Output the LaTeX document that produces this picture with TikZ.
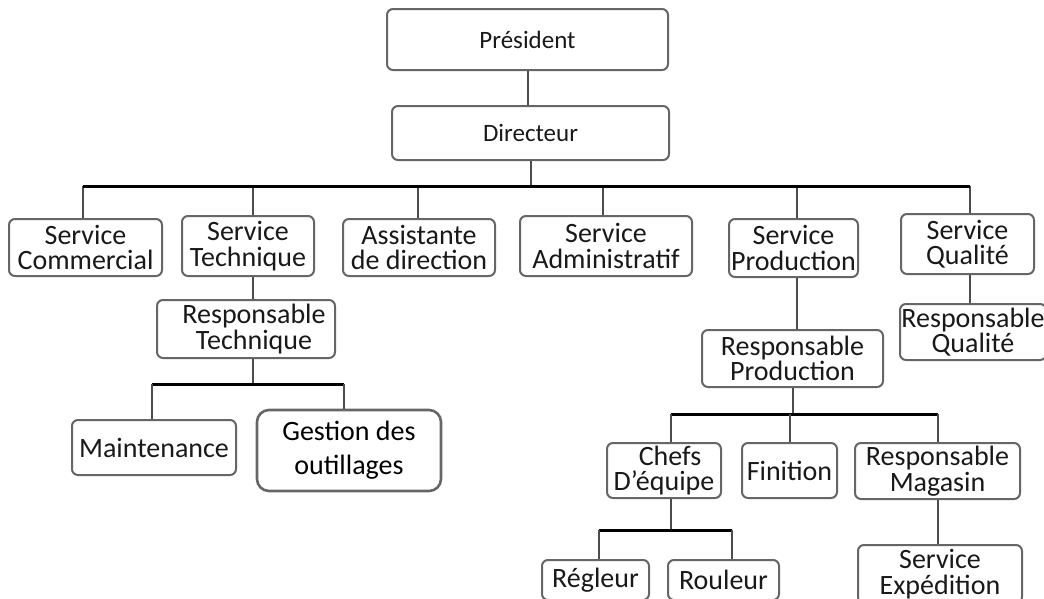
\documentclass[tikz,border=0pt]{standalone}
\usepackage{fontspec}
\setmainfont{Carlito}

\begin{document}
\begin{tikzpicture}[x=1pt, y=-1pt,
    box/.style={draw=black!60, line width=2pt, rounded corners=6pt, align=center,
      inner sep=0pt, text=black!90, font=\fontsize{28}{25.5}\selectfont},
    topbox/.style={box, font=\fontsize{25}{25}\selectfont},
    link/.style={draw=black!70, line width=2pt},
    bus/.style={draw=black, line width=3pt}]

  \useasboundingbox (0,0) rectangle (1044,598);
  \fill[white] (0,0) rectangle (1044,598);

  % President and Directeur
  \node[topbox, minimum width=281pt, minimum height=61pt] (pres) at (527.5,39.5) {Président};
  \node[topbox, minimum width=277pt, minimum height=54pt] (dir) at (530.5,133) {Directeur};
  \draw[link] (pres.south) -- (pres.south |- dir.north);

  % Services
  \node[box, minimum width=153pt, minimum height=57pt] (scom) at (85.5,247.5) {Service\\Commercial};
  \node[box, minimum width=132pt, minimum height=60pt] (stech) at (248,246) {Service\\Technique};
  \node[box, minimum width=152pt, minimum height=57pt] (assist) at (419,247.5) {Assistante\\de direction};
  \node[box, minimum width=172pt, minimum height=60pt] (sadmin) at (606,246) {Service\\Administratif};
  \node[box, minimum width=129pt, minimum height=58pt] (sprod) at (793.5,248) {Service\\Production};
  \node[box, minimum width=133pt, minimum height=60pt] (squal) at (967.5,244) {Service\\Qualité};

  \coordinate (busL) at (83,186);
  \coordinate (busR) at (970,186);
  \draw[link] (dir.south) -- (dir.south |- busL);
  \foreach \n/\dx in {scom/-2.5, stech/5, assist/-1, sadmin/-3, sprod/3.5, squal/2.5}
    \draw[link] ([xshift=\dx pt]\n.north) -- ([xshift=\dx pt]\n.north |- busL);
  \draw[bus] (busL) -- (busR);

  % Technique
  \node[box, minimum width=178pt, minimum height=58pt] (rtech) at (246,329) {\hspace*{16pt}Responsable\\\hspace*{16pt}Technique};
  \node[box, minimum width=164pt, minimum height=55pt] (maint) at (154,447.5) {Maintenance};
  \node[box, draw=black!60, line width=2.6pt, rounded corners=12pt, text=black,
    font=\fontsize{28}{34}\selectfont, minimum width=184pt, minimum height=81pt] (gestion) at (349,450.5) {Gestion des\\outillages};

  \coordinate (tbL) at (152,384);
  \coordinate (tbR) at (344,384);
  \draw[link] ([xshift=5pt]stech.south) -- ([xshift=5pt]stech.south |- rtech.north);
  \draw[link] ([xshift=5pt]stech.south |- rtech.south) -- ([xshift=5pt]stech.south |- tbL);
  \draw[bus] (tbL) -- (tbR);
  \draw[link] (tbL) -- (tbL |- maint.north);
  \draw[link] (tbR) -- (tbR |- gestion.north);

  % Production
  \node[box, minimum width=181pt, minimum height=57pt] (rprod) at (792.5,358.5) {Responsable\\Production};
  \node[box, minimum width=114pt, minimum height=55pt] (chefs) at (664,470.5) {\hspace*{12pt}Chefs\\D’équipe};
  \node[box, minimum width=95pt, minimum height=55pt] (fini) at (789.5,470.5) {Finition};
  \node[box, minimum width=165pt, minimum height=56pt] (rmag) at (937.5,471) {Responsable\\Magasin};
  \node[box, minimum width=107pt, minimum height=40pt] (regl) at (595.5,580) {Régleur};
  \node[box, minimum width=111pt, minimum height=40pt] (roul) at (723.5,580) {Rouleur};
  \node[box, minimum width=164pt, minimum height=58pt] (sexp) at (940,574) {Service\\Expédition};

  \coordinate (pbL) at (671,414);
  \coordinate (pbR) at (938,414);
  \draw[link] ([xshift=3.5pt]sprod.south) -- ([xshift=3.5pt]sprod.south |- rprod.north);
  \draw[link] (rprod.south) -- (rprod.south |- pbL);
  \draw[bus] (pbL) -- (pbR);
  \draw[link] (pbL) -- (pbL |- chefs.north);
  \draw[link] (fini.north |- pbL) -- (fini.north);
  \draw[link] (pbR) -- (pbR |- rmag.north);

  \coordinate (cbL) at (599,530);
  \coordinate (cbR) at (732,530);
  \draw[link] (pbL |- chefs.south) -- (pbL |- cbL);
  \draw[bus] (cbL) -- (cbR);
  \draw[link] (cbL) -- (cbL |- regl.north);
  \draw[link] (cbR) -- (cbR |- roul.north);
  \draw[link] (rmag.south) -- (rmag.south |- sexp.north);

  % Qualite
  \node[box, minimum width=146pt, minimum height=56pt] (rqual) at (973,332) {Responsable\\Qualité};
  \draw[link] ([xshift=2.5pt]squal.south) -- ([xshift=2.5pt]squal.south |- rqual.north);

\end{tikzpicture}
\end{document}
